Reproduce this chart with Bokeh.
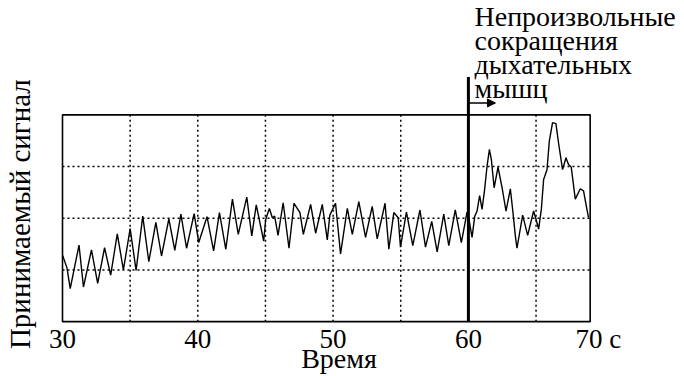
from bokeh.plotting import figure
from bokeh.models import Range1d, FixedTicker, Label, Arrow, NormalHead
from bokeh.embed import file_html
from bokeh.resources import INLINE
import math

# ---- data ----
time_s = [30.01, 30.33, 30.57, 31.22, 31.55, 32.14, 32.60, 33.11, 33.56, 34.05,
          34.50, 35.00, 35.44, 35.93, 36.38, 36.90, 37.32, 37.86, 38.30, 38.75,
          39.17, 39.73, 40.07, 40.68, 41.17, 41.60, 42.07, 42.56, 42.99, 43.62,
          43.99, 44.32, 44.87, 45.02, 45.29, 45.51, 45.68, 45.93, 46.31, 46.74,
          47.11, 47.55, 47.80, 48.34, 48.71, 49.20, 49.57, 49.76, 50.18, 50.55,
          51.05, 51.42, 51.90, 52.40, 52.89, 53.26, 53.84, 54.12, 54.49, 54.81,
          54.98, 55.42, 55.89, 56.42, 56.83, 57.29, 57.69, 58.18, 58.55, 59.03,
          59.48, 59.90, 60.07, 60.27, 60.47, 60.64, 60.83, 61.01, 61.20, 61.38,
          61.55, 61.70, 61.90, 62.19, 62.49, 62.78, 63.10, 63.27, 63.47, 63.59,
          64.01, 64.38, 64.82, 65.00, 65.19, 65.39, 65.56, 65.81, 65.98, 66.22,
          66.47, 66.66, 66.96, 67.21, 67.40, 67.60, 67.90, 68.27, 68.51, 68.76,
          68.88]
signal = [1.28, 1.04, 0.64, 1.48, 0.67, 1.39, 0.74, 1.43, 0.90, 1.70,
          1.00, 1.80, 0.99, 2.04, 1.16, 1.92, 1.27, 1.99, 1.38, 2.08,
          1.42, 2.09, 1.53, 2.03, 1.37, 2.11, 1.40, 2.37, 1.69, 2.41,
          1.66, 2.26, 1.56, 1.98, 2.19, 2.01, 2.04, 1.67, 2.30, 1.42,
          2.29, 2.11, 1.69, 2.27, 1.71, 2.27, 1.58, 2.06, 2.29, 1.31,
          2.19, 1.69, 2.32, 1.63, 2.23, 1.60, 2.29, 1.40, 2.11, 2.01,
          1.44, 2.12, 1.47, 2.16, 1.44, 1.94, 1.35, 2.08, 1.47, 2.16,
          1.53, 2.12, 1.94, 1.63, 2.04, 2.14, 2.44, 2.17, 2.56, 3.01,
          3.33, 3.13, 2.59, 2.99, 2.59, 2.14, 2.57, 2.17, 1.66, 1.42,
          2.06, 1.67, 2.14, 1.98, 1.79, 2.17, 2.75, 2.94, 3.49, 3.85,
          3.83, 3.46, 2.94, 3.17, 3.04, 2.99, 2.37, 2.57, 2.53, 2.17,
          2.01]

x_tick_positions = [30, 40, 50, 60, 69.6]
x_tick_labels = ["30", "40", "50", "60", "70 с"]
x_grid_positions = [35, 40, 45, 50, 55, 60, 65]
y_grid_positions = [1, 2, 3]
x_title = "Время"
y_title = "Принимаемый сигнал"
event_time = 60
event_lines = ["Непроизвольные", "сокращения", "дыхательных", "мышц"]

# plot box (data extent of the chart area)
X0, X1 = 30, 69.0
Y0, Y1 = 0, 4

FONT = "Liberation Serif"
PX_X = 13.53    # pixels per second
PX_Y = 52.0     # pixels per signal unit
BOX_LEFT = 62   # pixel of x=30 inside the canvas
BOX_BOTTOM = 323
FRAME_W = 677
FRAME_H = 352

p = figure(width=684, height=376, output_backend="svg", toolbar_location=None,
           x_range=Range1d(X0 - BOX_LEFT / PX_X, X0 + (FRAME_W - BOX_LEFT) / PX_X),
           y_range=Range1d(Y0 - (FRAME_H - BOX_BOTTOM) / PX_Y, BOX_BOTTOM / PX_Y),
           min_border_left=0, min_border_right=684 - FRAME_W,
           min_border_top=0, min_border_bottom=376 - FRAME_H)
p.title.visible = False
p.background_fill_color = "white"
p.border_fill_color = "white"
p.outline_line_color = None
p.xgrid.visible = False
p.ygrid.visible = False
p.yaxis.visible = False

# x axis: tick labels and title (pulled up under the box)
xa = p.xaxis[0]
xa.ticker = FixedTicker(ticks=x_tick_positions)
xa.major_label_overrides = {t: l for t, l in zip(x_tick_positions, x_tick_labels)}
xa.axis_line_color = None
xa.major_tick_line_color = None
xa.minor_tick_line_color = None
xa.major_tick_out = 0
xa.major_tick_in = 0
xa.major_label_standoff = -(FRAME_H - BOX_BOTTOM - 2)
xa.major_label_text_font = FONT
xa.major_label_text_font_size = "27px"
xa.major_label_text_color = "black"
xa.axis_label = x_title
xa.axis_label_text_font = FONT
xa.axis_label_text_font_size = "28px"
xa.axis_label_text_font_style = "normal"
xa.axis_label_text_color = "black"
xa.axis_label_standoff = -14

# dotted grid inside the box
p.segment(x0=x_grid_positions, y0=[Y0] * len(x_grid_positions),
          x1=x_grid_positions, y1=[Y1] * len(x_grid_positions),
          line_color="black", line_width=1.5, line_dash="2 3")
p.segment(x0=[X0] * len(y_grid_positions), y0=y_grid_positions,
          x1=[X1] * len(y_grid_positions), y1=y_grid_positions,
          line_color="black", line_width=1.5, line_dash="2 3")

# box
p.quad(left=X0, right=X1, bottom=Y0, top=Y1, fill_color=None,
       line_color="black", line_width=1.6)

# signal
p.line(time_s, signal, line_color="black", line_width=1.4)

# event marker: thick vertical line and arrow
p.segment(x0=[event_time], y0=[Y0], x1=[event_time], y1=[4.73],
          line_color="black", line_width=3)
p.add_layout(Arrow(end=NormalHead(size=8, fill_color="black", line_color="black"),
                   x_start=event_time, y_start=4.23, x_end=62.0, y_end=4.23,
                   line_width=1.5, line_color="black"))

# event text
for i, txt in enumerate(event_lines):
    p.add_layout(Label(x=60.45, y=5.90 - 0.462 * i, text=txt,
                       text_font=FONT, text_font_size="28px", text_color="black",
                       text_align="left", text_baseline="alphabetic"))

# y title (vertical, left of the box)
p.add_layout(Label(x=26.89, y=2.08, text=y_title, angle=math.pi / 2,
                   text_font=FONT, text_font_size="29px", text_color="black",
                   text_align="center", text_baseline="alphabetic"))

open("out.html", "w").write(file_html(p, INLINE))
